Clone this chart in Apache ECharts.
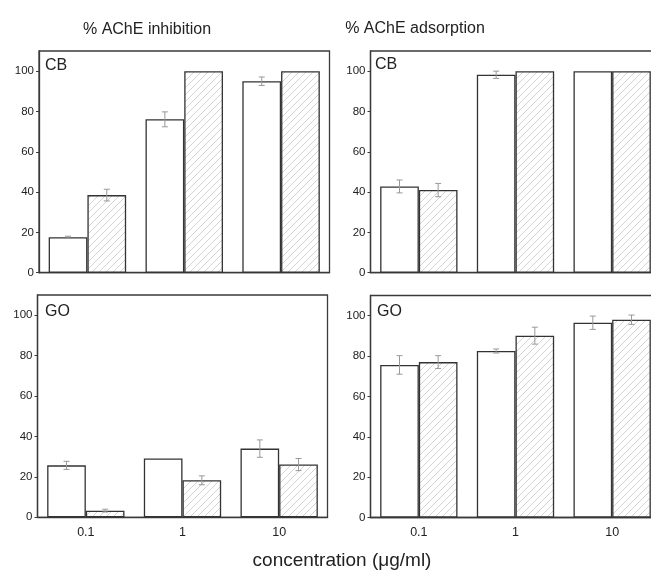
<!DOCTYPE html>
<html><head><meta charset="utf-8">
<script src="https://cdn.jsdelivr.net/npm/echarts@6/dist/echarts.min.js"></script>
<style>html,body{margin:0;padding:0;background:#fff}#c{width:651px;height:573px}</style>
</head><body><div id="c"></div>
<script>
const categories = ['0.1', '1', '10'];
const yTicks = [0, 20, 40, 60, 80, 100];
// CB, % AChE inhibition
const cbInhWhite = [17.6, 76.1, 95.0];
const cbInhWhiteErr = [0.5, 3.7, 2.1];
const cbInhHatch = [38.5, 100, 100];
const cbInhHatchErr = [2.9, 0, 0];
// CB, % AChE adsorption
const cbAdsWhite = [42.8, 98.2, 100];
const cbAdsWhiteErr = [3.2, 1.8, 0];
const cbAdsHatch = [41.0, 100, 100];
const cbAdsHatchErr = [3.3, 0, 0];
// GO, % AChE inhibition
const goInhWhite = [25.7, 29.1, 34.0];
const goInhWhiteErr = [2.0, 0, 4.3];
const goInhHatch = [3.3, 18.3, 26.1];
const goInhHatchErr = [0.7, 2.2, 3.0];
// GO, % AChE adsorption
const goAdsWhite = [75.6, 82.5, 96.5];
const goAdsWhiteErr = [4.6, 1.0, 3.3];
const goAdsHatch = [77.0, 90.1, 98.0];
const goAdsHatchErr = [3.2, 4.2, 2.3];

const FONT = '"Liberation Sans", Arial, sans-serif';

// hatch pattern
const T = 7;
const pc = document.createElement('canvas');
pc.width = T; pc.height = T;
const g = pc.getContext('2d');
g.fillStyle = '#fff'; g.fillRect(0, 0, T, T);
g.strokeStyle = '#cfcfcf'; g.lineWidth = 0.9;
g.beginPath();
g.moveTo(0, T); g.lineTo(T, 0);
g.moveTo(-1, 1); g.lineTo(1, -1);
g.moveTo(T - 1, T + 1); g.lineTo(T + 1, T - 1);
g.stroke();
const hatch = { image: pc, repeat: 'repeat' };

const grids = [
  { left: 39, top: 51, width: 290.5, height: 221.7 },
  { left: 370.5, top: 51, width: 290, height: 221.7 },
  { left: 37.5, top: 295, width: 290, height: 222.3 },
  { left: 370.5, top: 295.5, width: 290, height: 222 }
];
const panels = [
  { w: cbInhWhite, we: cbInhWhiteErr, h: cbInhHatch, he: cbInhHatchErr, labels: false },
  { w: cbAdsWhite, we: cbAdsWhiteErr, h: cbAdsHatch, he: cbAdsHatchErr, labels: false },
  { w: goInhWhite, we: goInhWhiteErr, h: goInhHatch, he: goInhHatchErr, labels: true },
  { w: goAdsWhite, we: goAdsWhiteErr, h: goAdsHatch, he: goAdsHatchErr, labels: true }
];

const gridOpt = grids.map(gr => Object.assign({ show: true, borderColor: '#3a3a3a', borderWidth: 1.3, backgroundColor: '#fff', containLabel: false, outerBoundsMode: 'none' }, gr));
const xAxes = panels.map((p, i) => ({
  type: 'category', gridIndex: i, data: categories,
  axisLine: { show: true, lineStyle: { color: '#3a3a3a', width: 1.3 } },
  axisTick: { show: false },
  axisLabel: { show: p.labels, color: '#222', fontFamily: FONT, fontSize: 12.5, margin: 9 }
}));
const yAxes = panels.map((p, i) => ({
  type: 'value', gridIndex: i, min: 0, max: 110, interval: 20,
  splitLine: { show: false },
  axisLine: { show: true, lineStyle: { color: '#3a3a3a', width: 1.3 } },
  axisTick: { show: true, length: 3, lineStyle: { color: '#3a3a3a' } },
  axisLabel: { color: '#222', fontFamily: FONT, fontSize: 11.5, margin: 5, showMaxLabel: false,
    formatter: v => (yTicks.indexOf(v) >= 0 ? String(v) : '') }
}));

function errSeries(i, vals, errs, side) {
  return {
    type: 'custom', xAxisIndex: i, yAxisIndex: i, z: 5,
    data: vals.map((v, k) => [k, v, errs[k]]),
    renderItem: function (params, api) {
      const k = api.value(0), v = api.value(1), e = api.value(2);
      if (!e) return null;
      const band = api.size([1, 0])[0];
      const c = api.coord([k, v]);
      const x = c[0] + side * 0.2 * band;
      const hi = api.coord([k, v + e])[1];
      const lo = api.coord([k, v - e])[1];
      const cap = 3;
      const st = { stroke: '#999', lineWidth: 1 };
      return { type: 'group', children: [
        { type: 'line', shape: { x1: x, y1: hi, x2: x, y2: lo }, style: st },
        { type: 'line', shape: { x1: x - cap, y1: hi, x2: x + cap, y2: hi }, style: st },
        { type: 'line', shape: { x1: x - cap, y1: lo, x2: x + cap, y2: lo }, style: st }
      ] };
    }
  };
}

const series = [];
panels.forEach((p, i) => {
  series.push({ type: 'bar', xAxisIndex: i, yAxisIndex: i, data: p.w, barGap: '0%', barCategoryGap: '20%',
    itemStyle: { color: '#fff', borderColor: '#333', borderWidth: 1.3 }, silent: true, animation: false });
  series.push({ type: 'bar', xAxisIndex: i, yAxisIndex: i, data: p.h, barGap: '0%', barCategoryGap: '20%',
    itemStyle: { color: hatch, borderColor: '#333', borderWidth: 1.3 }, silent: true, animation: false });
  series.push(errSeries(i, p.w, p.we, -1));
  series.push(errSeries(i, p.h, p.he, 1));
});

const chart = echarts.init(document.getElementById('c'), null, { renderer: 'canvas' });
chart.setOption({
  animation: false,
  grid: gridOpt,
  xAxis: xAxes,
  yAxis: yAxes,
  series: series,
  graphic: [
    { type: 'text', x: 147, y: 30, z: 10, style: { text: '% AChE inhibition', font: '16px ' + FONT, fill: '#222', align: 'center', verticalAlign: 'middle' } },
    { type: 'text', x: 415, y: 29, z: 10, style: { text: '% AChE adsorption', font: '16px ' + FONT, fill: '#222', align: 'center', verticalAlign: 'middle' } },
    { type: 'text', x: 45, y: 66, z: 10, style: { text: 'CB', font: '16px ' + FONT, fill: '#222', align: 'left', verticalAlign: 'middle' } },
    { type: 'text', x: 375, y: 65, z: 10, style: { text: 'CB', font: '16px ' + FONT, fill: '#222', align: 'left', verticalAlign: 'middle' } },
    { type: 'text', x: 45, y: 312, z: 10, style: { text: 'GO', font: '16px ' + FONT, fill: '#222', align: 'left', verticalAlign: 'middle' } },
    { type: 'text', x: 377, y: 312, z: 10, style: { text: 'GO', font: '16px ' + FONT, fill: '#222', align: 'left', verticalAlign: 'middle' } },
    { type: 'text', x: 342, y: 561, z: 10, style: { text: 'concentration (μg/ml)', font: '19px ' + FONT, fill: '#222', align: 'center', verticalAlign: 'middle' } }
  ]
});
</script>
</body></html>
